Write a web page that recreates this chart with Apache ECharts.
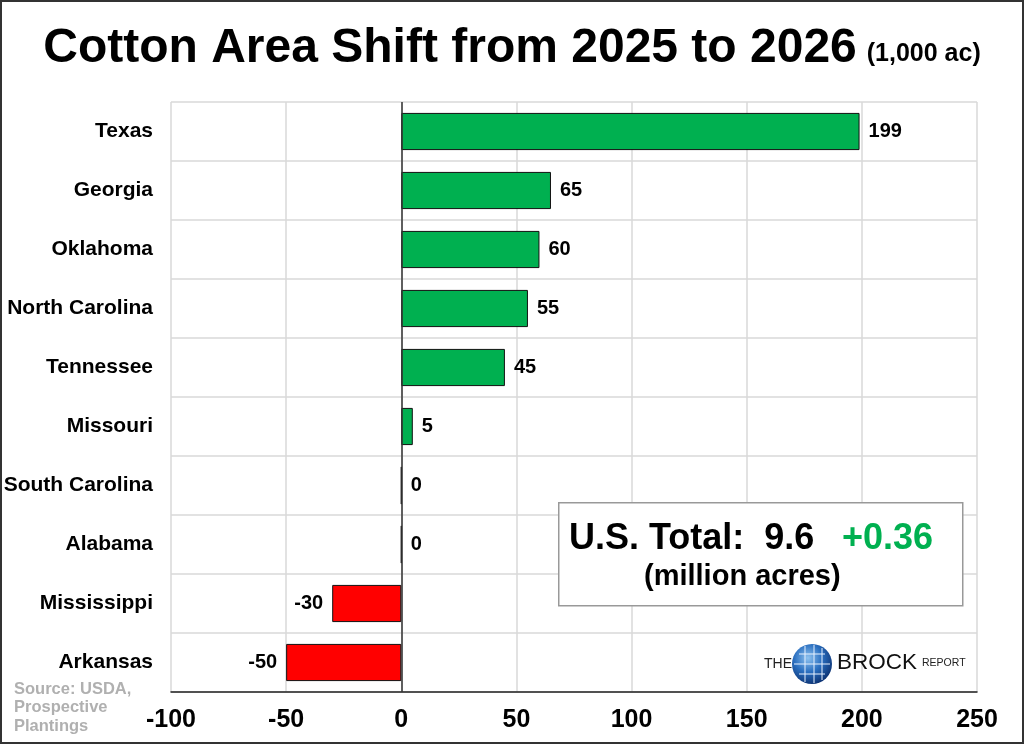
<!DOCTYPE html>
<html><head><meta charset="utf-8">
<script src="https://cdn.jsdelivr.net/npm/echarts@6/dist/echarts.min.js"></script>
<style>html,body{margin:0;padding:0;background:#fff}#c{width:1024px;height:744px;box-sizing:border-box;border:2px solid #333}</style>
</head><body><div id="c"></div>
<script>
var categories = ['Texas','Georgia','Oklahoma','North Carolina','Tennessee','Missouri','South Carolina','Alabama','Mississippi','Arkansas'];
var values = [199, 65, 60, 55, 45, 5, 0, 0, -30, -50];
var xTicks = [-100, -50, 0, 50, 100, 150, 200, 250];

var chart = echarts.init(document.getElementById('c'));
var FONT = 'Liberation Sans, Arial, sans-serif';
var data = values.map(function(v){
  return {
    value: v,
    itemStyle: {color: v < 0 ? '#FF0000' : '#00B050'},
    label: {position: v < 0 ? 'left' : 'right'}
  };
});
chart.setOption({
  animation: false,
  title: {
    text: '{a|Cotton Area Shift from 2025 to 2026}  {b|(1,000 ac)}',
    left: 'center', top: 18,
    textStyle: {rich: {
      a: {fontFamily: FONT, fontWeight: 'bold', fontSize: 48, color: '#000'},
      b: {fontFamily: FONT, fontWeight: 'bold', fontSize: 25, color: '#000', padding: [10,0,0,0]}
    }}
  },
  grid: {left: 169, right: 45, top: 100, bottom: 50, containLabel: false, outerBoundsMode: 'none'},
  xAxis: {
    type: 'value', min: -100, max: 250, interval: 50,
    axisLine: {show: true, onZero: false, lineStyle: {color: '#222', width: 1.5}},
    axisTick: {show: false},
    axisLabel: {fontFamily: FONT, fontWeight: 'bold', fontSize: 25, color: '#000', margin: 16},
    splitLine: {show: true, lineStyle: {color: '#d9d9d9', width: 1.5}}
  },
  yAxis: {
    type: 'category', data: categories, inverse: true,
    axisLine: {show: false},
    axisTick: {show: false},
    axisLabel: {fontFamily: FONT, fontWeight: 'bold', fontSize: 21, color: '#000', margin: 18},
    splitLine: {show: true, lineStyle: {color: '#d9d9d9', width: 1.5}}
  },
  series: [{
    type: 'bar', data: data, barWidth: '63%',
    itemStyle: {borderColor: '#111', borderWidth: 1},
    label: {show: true, fontFamily: FONT, fontWeight: 'bold', fontSize: 20, color: '#000', distance: 9},
    markLine: {
      silent: true, symbol: 'none', label: {show: false},
      lineStyle: {color: '#333', type: 'solid', width: 1.5},
      data: [{xAxis: 0}]
    }
  }],
  graphic: [
    {type: 'rect', left: 556, top: 500, shape: {width: 404, height: 103},
     style: {fill: '#fff', stroke: '#999', lineWidth: 1.5}, z: 10},
    {type: 'text', left: 567, top: 519, z: 11,
     style: {text: '{a|U.S. Total:  9.6}{g|+0.36}', rich: {
       a: {fontFamily: FONT, fontWeight: 'bold', fontSize: 36, fill: '#000', width: 273},
       g: {fontFamily: FONT, fontWeight: 'bold', fontSize: 36, fill: '#00B050'}
     }}},
    {type: 'text', left: 642, top: 560, z: 11,
     style: {text: '(million acres)', font: 'bold 29px ' + FONT, fill: '#000'}},
    {type: 'text', left: 12, top: 678, z: 11,
     style: {text: 'Source: USDA,\nProspective\nPlantings', font: 'bold 16.5px ' + FONT, fill: '#b0b0b0', lineHeight: 18.5}},
    {type: 'text', left: 762, top: 655, z: 11,
     style: {text: 'THE', font: '14px ' + FONT, fill: '#222'}},
    {type: 'circle', shape: {cx: 810, cy: 662, r: 20}, z: 11,
     style: {fill: {type: 'radial', x: 0.4, y: 0.35, r: 0.7, colorStops: [{offset: 0, color: '#8fc3f0'}, {offset: 0.5, color: '#2a6fc0'}, {offset: 1, color: '#0b2f6e'}]}}},
    {type: 'group', z: 12, children: [
      {type: 'line', shape: {x1: 797, y1: 652, x2: 823, y2: 652}, style: {stroke: '#e8f2ff', lineWidth: 1}, z: 12},
      {type: 'line', shape: {x1: 792, y1: 662, x2: 828, y2: 662}, style: {stroke: '#e8f2ff', lineWidth: 1}, z: 12},
      {type: 'line', shape: {x1: 797, y1: 672, x2: 823, y2: 672}, style: {stroke: '#e8f2ff', lineWidth: 1}, z: 12},
      {type: 'line', shape: {x1: 803, y1: 644, x2: 803, y2: 680}, style: {stroke: '#e8f2ff', lineWidth: 1}, z: 12},
      {type: 'line', shape: {x1: 812, y1: 643, x2: 812, y2: 681}, style: {stroke: '#e8f2ff', lineWidth: 1}, z: 12},
      {type: 'line', shape: {x1: 820, y1: 646, x2: 820, y2: 678}, style: {stroke: '#e8f2ff', lineWidth: 1}, z: 12}
    ]},
    {type: 'text', left: 835, top: 649, z: 11,
     style: {text: 'BROCK', font: '22.5px ' + FONT, fill: '#111'}},
    {type: 'text', left: 920, top: 656, z: 11,
     style: {text: 'REPORT', font: '10.5px ' + FONT, fill: '#222'}}
  ]
});
</script></body></html>
